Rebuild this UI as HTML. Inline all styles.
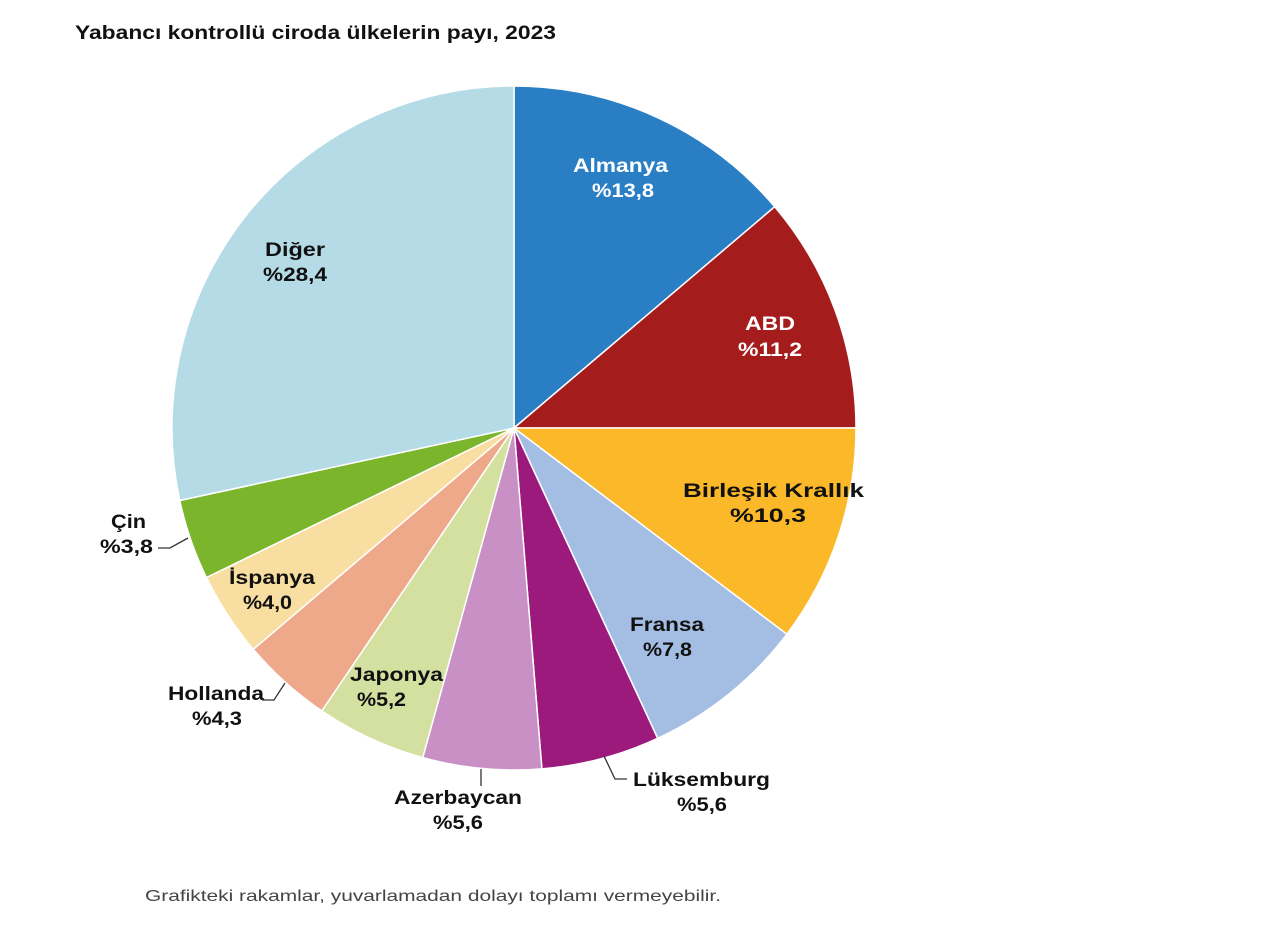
<!DOCTYPE html>
<html><head><meta charset="utf-8"><style>
body{margin:0;background:#fff;font-family:"Liberation Sans",sans-serif;}
svg text{font-family:"Liberation Sans",sans-serif;}
</style></head><body>
<svg id="s" width="1280" height="935" xmlns="http://www.w3.org/2000/svg">
<text x="75" y="39" font-size="19" font-weight="bold" fill="#111" textLength="481" lengthAdjust="spacingAndGlyphs">Yabancı kontrollü ciroda ülkelerin payı, 2023</text>
<g id="pie"></g>
<g font-size="19" font-weight="bold" text-anchor="middle" id="lab"></g>
<g stroke="#333" stroke-width="1.3" fill="none">
<polyline points="158,548 170,548 188,538"/>
<polyline points="262,700 274,700 285,683"/>
<polyline points="481,769 481,786"/>
<polyline points="604,756 615,779 627,779"/>
</g>
<text x="145" y="901" font-size="16" fill="#444" textLength="576" lengthAdjust="spacingAndGlyphs">Grafikteki rakamlar, yuvarlamadan dolayı toplamı vermeyebilir.</text>
</svg>
<script>
var d=[[13.8,"#2a7fc4"],[11.2,"#a51c1c"],[10.3,"#fbb829"],[7.8,"#a4bde3"],[5.6,"#9b1a7c"],[5.6,"#c990c6"],[5.2,"#d3e09f"],[4.3,"#eea98a"],[4.0,"#f8dea0"],[3.8,"#7bb52b"],[28.4,"#b5dbe6"]];
var cx=514,cy=428,r=342,a=0,h="";
d.forEach(function(s){var a2=a+s[0]/100*2*Math.PI;
var x1=cx+r*Math.sin(a),y1=cy-r*Math.cos(a),x2=cx+r*Math.sin(a2),y2=cy-r*Math.cos(a2);
h+='<path d="M'+cx+','+cy+' L'+x1+','+y1+' A'+r+','+r+' 0 '+(a2-a>Math.PI?1:0)+' 1 '+x2+','+y2+' Z" fill="'+s[1]+'" stroke="#fff" stroke-width="1.5"/>';a=a2;});
document.getElementById("pie").innerHTML=h;
var L=[["Almanya",573,668,172,"#fff"],["%13,8",592,654,197,"#fff"],["ABD",745,795,330,"#fff"],["%11,2",738,802,356,"#fff"],
["Birleşik Krallık",683,864,497],["%10,3",730,806,522],["Fransa",630,704,631],["%7,8",643,692,656],
["Lüksemburg",633,770,786],["%5,6",677,727,811],["Azerbaycan",394,522,804],["%5,6",433,483,829],
["Japonya",350,443,681],["%5,2",357,406,706],["Hollanda",168,264,700],["%4,3",192,242,725],
["İspanya",229,315,584],["%4,0",243,292,609],["Çin",111,146,528],["%3,8",100,153,553],["Diğer",265,325,256],["%28,4",263,327,281]];
var t="";L.forEach(function(l){t+='<text x="'+(l[1]+l[2])/2+'" y="'+l[3]+'" fill="'+(l[4]||"#111")+'" textLength="'+(l[2]-l[1])+'" lengthAdjust="spacingAndGlyphs">'+l[0]+'</text>';});
document.getElementById("lab").innerHTML=t;
</script>
</body></html>
